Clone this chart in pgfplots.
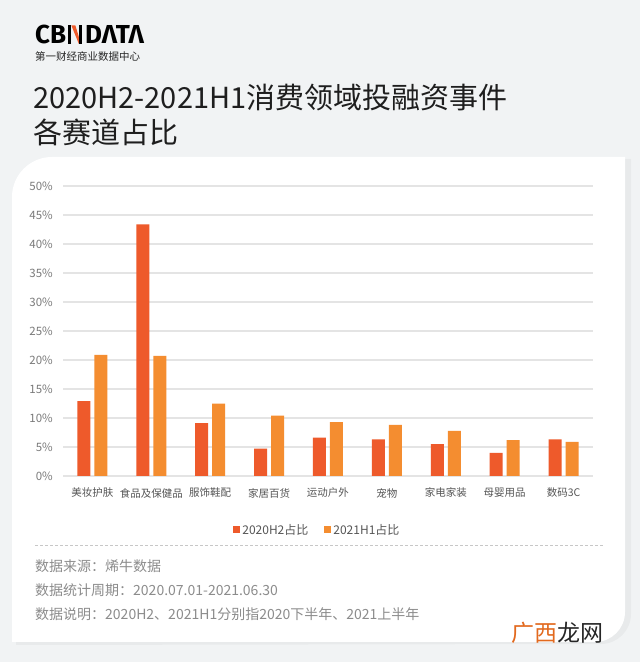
\documentclass[border=0pt]{standalone}
\usepackage{pgfplots}
\pgfplotsset{compat=1.18}
\usepackage{fontspec}
\setmainfont{Noto Sans CJK SC}
\newfontfamily\logofont{Fira Sans}

\definecolor{pagebg}{HTML}{F1F3F4}
\definecolor{gridc}{HTML}{E4E4E4}
\definecolor{hA}{HTML}{EE5A2B}
\definecolor{hB}{HTML}{F48D30}
\definecolor{ticktext}{HTML}{7A7A7A}
\definecolor{labeltext}{HTML}{555555}
\definecolor{notetext}{HTML}{8C8C8C}
\definecolor{titletext}{HTML}{1E1E1E}
\definecolor{logored}{HTML}{EE5A2B}
\definecolor{siteorange}{HTML}{E2691E}

\begin{document}
\begin{tikzpicture}[x=1pt,y=1pt]
  \useasboundingbox (0,0) rectangle (640,662);
  % page background
  \fill[pagebg] (0,0) rectangle (640,662);
  % card shadow and card
  \fill[black,opacity=0.035] (16,17) -- (16,463) arc[start angle=180,end angle=90,radius=40] -- (631,503) -- (631,48) arc[start angle=0,end angle=-90,radius=30] -- cycle;
  \fill[white] (12,20) -- (12,465) arc[start angle=180,end angle=90,radius=40] -- (625,505) -- (625,50) arc[start angle=0,end angle=-90,radius=30] -- cycle;

  % logo
  \node[anchor=base west,inner sep=0,font=\logofont\bfseries\fontsize{26}{26}\selectfont] (cb) at (35,618) {CB};
  \begin{scope}[shift={(cb.base east)}]
    \fill[black] (1.5,0) rectangle (5,18.5);
    \fill[black] (12.5,0) rectangle (16,18.5);
    \fill[logored] (5,18.5) -- (9,18.5) -- (12.5,7) -- (12.5,0) -- cycle;
  \end{scope}
  \node[anchor=base west,inner sep=0,font=\logofont\bfseries\fontsize{26}{26}\selectfont] at ([xshift=18.5pt]cb.base east) {DΛTΛ};
  \node[anchor=base west,inner sep=0,text=black!85,font=\fontsize{10.5}{10.5}\selectfont] at (35,601) {第一财经商业数据中心};

  % title
  \node[anchor=base west,inner sep=0,text=titletext,font=\fontsize{29}{29}\selectfont] at (33,553) {2020H2-2021H1消费领域投融资事件};
  \node[anchor=base west,inner sep=0,text=titletext,font=\fontsize{29}{29}\selectfont] at (33,518) {各赛道占比};

  \begin{axis}[
    at={(63pt,186pt)}, anchor=south west,
    width=530pt, height=290pt, scale only axis,
    xmin=-0.5, xmax=8.5, ymin=0, ymax=50,
    ybar=4pt, bar width=13pt,
    axis line style={draw=none},
    major tick length=0pt,
    ytick={0,5,...,50},
    ymajorgrids, grid style={color=gridc,line width=1.1pt},
    yticklabel={\pgfmathprintnumber{\tick}\%},
    yticklabel style={anchor=east,inner sep=0pt,xshift=-10pt,text=ticktext,font=\fontsize{11.5}{12}\selectfont},
    /pgf/number format/assume math mode=true,
    xtick={0,...,8},
    xticklabels={美妆护肤,食品及保健品,服饰鞋配,家居百货,运动户外,宠物,家电家装,母婴用品,数码3C},
    xticklabel style={anchor=center,inner sep=0pt,yshift=-17pt,text=labeltext,font=\fontsize{10.5}{11}\selectfont},
    legend columns=2,
    legend style={at={(axis description cs:0.48,-0.186)},anchor=center,draw=none,fill=none,
      text=labeltext,font=\fontsize{12}{13}\selectfont,
      /tikz/every even column/.append style={column sep=14pt}},
  ]
    \addplot[fill=hA,draw=none,legend image code/.code={\fill[hA] (0pt,-3.5pt) rectangle (7pt,3.5pt);}]
      coordinates {(0,12.9) (1,43.4) (2,9.1) (3,4.7) (4,6.6) (5,6.3) (6,5.5) (7,4.0) (8,6.3)};
    \addlegendentry{2020H2占比}
    \addplot[fill=hB,draw=none,legend image code/.code={\fill[hB] (0pt,-3.5pt) rectangle (7pt,3.5pt);}]
      coordinates {(0,20.9) (1,20.7) (2,12.5) (3,10.4) (4,9.3) (5,8.8) (6,7.8) (7,6.2) (8,5.9)};
    \addlegendentry{2021H1占比}
  \end{axis}

  % separator and notes
  \draw[color=black!22,line width=0.8pt,dash pattern=on 3pt off 2pt] (35,117) -- (603,117);
  \node[anchor=west,inner sep=0,text=notetext,font=\fontsize{14}{14}\selectfont] at (35,96) {数据来源：烯牛数据};
  \node[anchor=west,inner sep=0,text=notetext,font=\fontsize{14}{14}\selectfont] at (35,72) {数据统计周期：2020.07.01-2021.06.30};
  \node[anchor=west,inner sep=0,text=notetext,font=\fontsize{14}{14}\selectfont] at (35,48) {数据说明：2020H2、2021H1分别指2020下半年、2021上半年};

  % site mark
  \node[anchor=west,inner sep=0,font=\fontsize{23}{23}\selectfont] at (511,29) {\textcolor{siteorange}{广西}\textcolor{black!85}{龙网}};
\end{tikzpicture}
\end{document}
